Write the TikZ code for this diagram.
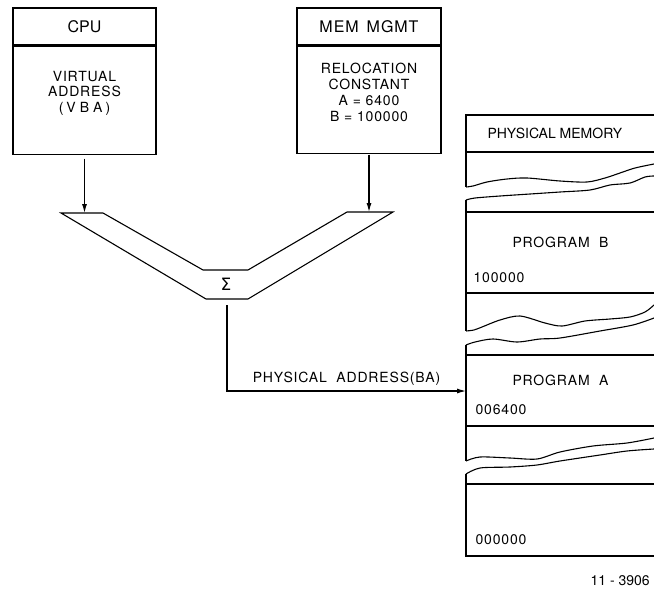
\documentclass[tikz,border=0pt]{standalone}
\usepackage{fontspec}
\setmainfont{TeX Gyre Heros}
\newfontfamily\largo{TeX Gyre Heros}[LetterSpace=6]
\newfontfamily\grego{DejaVu Sans}
\usetikzlibrary{arrows.meta}

\begin{document}
\begin{tikzpicture}[x=1pt, y=-1pt, line width=1.1pt, >={Latex[length=9pt,width=5pt]},
    bloco/.style={draw, rectangle, inner sep=0pt, minimum width=143pt},
    titulo/.style={font=\fontsize{16}{18}\selectfont},
    rotulo/.style={align=center, inner sep=0pt, font=\fontsize{14}{16}\selectfont\largo},
    memtxt/.style={anchor=west, inner sep=0pt, font=\fontsize{14}{16}\selectfont\largo}]
\useasboundingbox (0,0) rectangle (654,589);
% CPU
\node[bloco, titulo, minimum height=37pt] (cpu) at (84.5,26.5) {CPU};
\node[bloco, minimum height=108pt, anchor=north] (cpucorpo) at (cpu.south) {};
\node[rotulo, font=\fontsize{14}{15.5}\selectfont\largo] (va) at (84.5,93)
    {VIRTUAL\\ADDRESS\\(\hspace{3pt}V\hspace{4pt}B\hspace{4pt}A\hspace{3pt})};
% Gerencia de memoria
\node[bloco, titulo, font=\fontsize{16}{18}\selectfont\largo, minimum width=144pt, minimum height=37pt] (mmu) at (369,26.5) {MEM\hspace{8pt}MGMT};
\node[bloco, minimum width=144pt, minimum height=107pt, anchor=north] (mmucorpo) at (mmu.south) {};
\node[rotulo] (reloc) at (369,92) {RELOCATION\\CONSTANT\\A = 6400\\B = 100000};
% Somador
\coordinate (cpuin) at (84.5,213);
\coordinate (mmuin) at (369,212);
\coordinate (somaout) at (227,299);
\draw (61,213) -- (103,213) -- (203,270) -- (248,270) -- (347,212) -- (393,212)
    -- (248,299) -- (206,299) -- cycle;
\node[font=\fontsize{17}{19}\selectfont\grego] (soma) at (226,284) {Σ};
\draw[->] ([yshift=-4pt]cpucorpo.south) -- (cpuin);
\draw[->] ([yshift=-1pt]mmucorpo.south) -- (mmuin);
% Endereco fisico
\coordinate (memin) at (466,391);
\draw[->] ([yshift=-6pt]somaout) |- node[pos=0.75, above=5pt, inner sep=0pt,
    font=\fontsize{14}{16}\selectfont\largo] (pa) {PHYSICAL\ \ ADDRESS(BA)} (memin);
% Memoria fisica
\foreach \y in {152,212,293,355,426,484}
  \draw (466,\y) -- (654,\y);
\draw (654,115) -- (466,115) -- (466,187);
\draw (466,200) -- (466,331);
\draw (466,345) -- (466,461);
\draw (466,474) -- (466,556) -- (654,556);
% quebras
\draw plot[smooth] coordinates {(466,187) (473,186) (487,182) (507,179) (527,178) (560,181)
    (587,182) (605,178) (620,173) (635,168) (654,164)};
\draw plot[smooth] coordinates {(466,200) (475,198) (500,196) (530,194) (560,192) (590,190)
    (610,185) (630,183) (645,177) (654,176)};
\draw plot[smooth] coordinates {(466,331) (474,330) (482,327) (500,320) (520,316) (545,323)
    (562,326) (585,321) (610,319) (630,317) (645,312) (654,305)};
\draw plot[smooth] coordinates {(466,345) (475,342) (493,339) (517,342) (540,339) (560,338)
    (600,331) (633,325) (654,318)};
\draw plot[smooth] coordinates {(466,461) (480,457) (510,458) (537,459) (560,452) (593,446)
    (627,443) (654,438)};
\draw plot[smooth] coordinates {(466,474) (480,468) (510,467) (537,465) (560,461) (600,455)
    (627,451) (654,449)};
% textos
\node[memtxt, font=\fontsize{14}{16}\selectfont] (pm) at (487,133) {PHYSICAL MEMORY};
\node[memtxt] (progb) at (512,242) {PROGRAM\ \ B};
\node[memtxt] (endb) at (473,278) {100000};
\node[memtxt] (proga) at (512,380) {PROGRAM\ \ A};
\node[memtxt] (enda) at (475,410) {006400};
\node[memtxt] (endz) at (475,540) {000000};
\node[memtxt, font=\fontsize{14}{16}\selectfont] (fig) at (590,581) {11 - 3906};
\end{tikzpicture}
\end{document}
